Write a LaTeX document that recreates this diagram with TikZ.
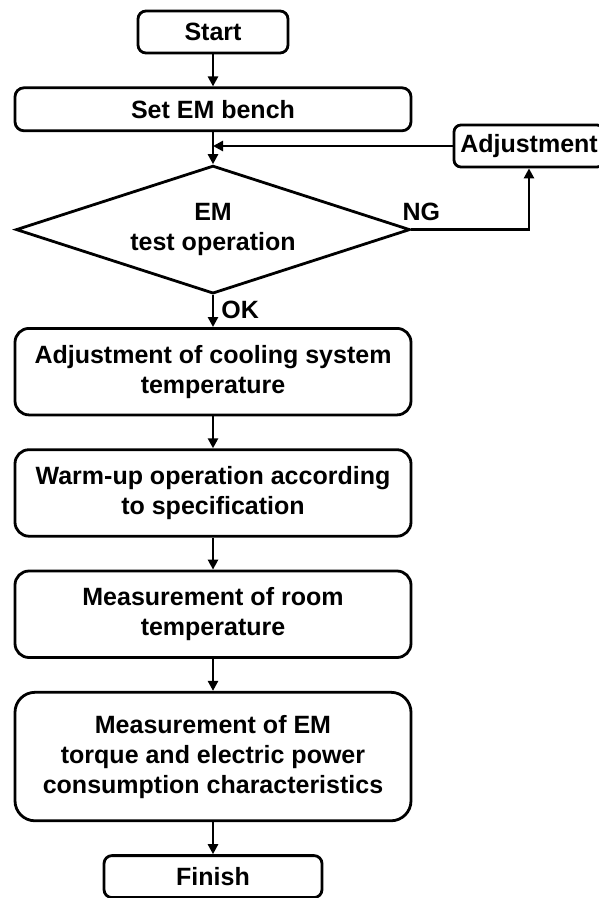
\documentclass[tikz,border=0pt]{standalone}
\usepackage{fontspec}
\setmainfont{Liberation Sans}
\usetikzlibrary{positioning, arrows.meta, shapes.geometric}
\definecolor{clrborder}{HTML}{000000}
\definecolor{clrtext}{HTML}{000000}

\begin{document}
\begin{tikzpicture}[
    x=1pt, y=1pt,
    >={Triangle[length=10pt, width=10pt]},
    every node/.style={font=\bfseries\fontsize{25}{30}\selectfont, text=clrtext},
    block/.style={draw=clrborder, rounded corners=14pt, minimum width=396pt,
                  minimum height=86.5pt, align=center, line width=2.8pt, inner sep=0pt},
    terminal/.style={draw=clrborder, rounded corners=8pt, minimum height=42pt,
                     line width=2.8pt, inner sep=0pt},
    decision/.style={diamond, draw=clrborder, aspect=3, minimum width=394pt,
                     minimum height=128pt, align=center, line width=2.8pt, inner sep=0pt},
    arrow/.style={->, color=clrborder, line width=2.8pt},
    tag/.style={inner sep=0pt},
]
\useasboundingbox (0,0) rectangle (599,-898);
\node[terminal, minimum width=150pt] (n_1) at (213,-32) {Start};
\node[terminal, rounded corners=9pt, minimum width=396pt, minimum height=43pt, below=32pt of n_1] (n_2) {Set EM bench};
\node[decision, below=32pt of n_2] (dec_3) {EM\\test operation};
\node[block, below=32pt of dec_3] (n_4) {Adjustment of cooling system\\temperature};
\node[block, below=32pt of n_4] (n_5) {Warm-up operation according\\to specification};
\node[block, below=32pt of n_5] (n_6) {Measurement of room\\temperature};
\node[block, rounded corners=20pt, minimum height=128.5pt, below=32pt of n_6] (n_7) {Measurement of EM\\torque and electric power\\consumption characteristics};
\node[terminal, minimum width=218pt, below=32pt of n_7] (n_8) {Finish};
\node[terminal, rounded corners=7pt, minimum width=150pt] (adj_9) at (529,-146) {Adjustment};
\coordinate (join_10) at (n_2.south |- adj_9.west);
\draw[arrow] (n_1.south) -- (n_2.north);
\draw[arrow] (n_2.south) -- (dec_3.north);
\draw[arrow] (adj_9.west) -- (join_10);
\draw[arrow] (dec_3.east) -| (adj_9.south);
\node[tag, anchor=base west] (ng_11) at ([xshift=-9pt, yshift=9pt]dec_3.east) {NG};
\draw[arrow] (dec_3.south) -- node[tag, right, xshift=7pt, yshift=1pt] (ok_12) {OK} (n_4.north);
\draw[arrow] (n_4.south) -- (n_5.north);
\draw[arrow] (n_5.south) -- (n_6.north);
\draw[arrow] (n_6.south) -- (n_7.north);
\draw[arrow] (n_7.south) -- (n_8.north);
\end{tikzpicture}
\end{document}
